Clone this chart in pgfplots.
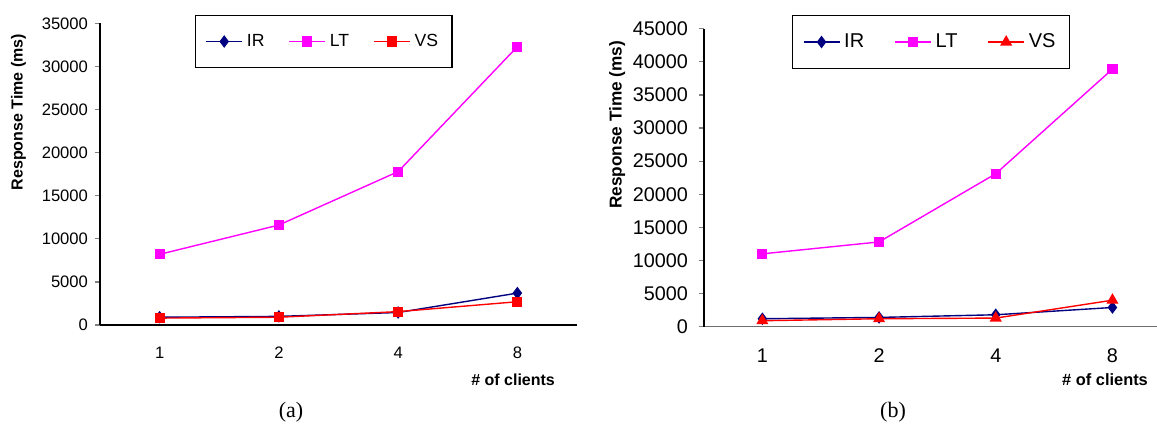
\documentclass[border=0pt]{standalone}
\usepackage{fontspec}
\setmainfont{Liberation Sans}
\newfontfamily\capfont{Liberation Serif}
\usepackage{pgfplots}
\pgfplotsset{compat=1.18}

\definecolor{irblue}{RGB}{0,0,128}
\definecolor{ltmag}{RGB}{255,0,255}
\definecolor{vsred}{RGB}{255,0,0}
\definecolor{axgray}{RGB}{110,110,110}

\pgfplotsset{
  rt/.style={
    scale only axis,
    xmin=0, xmax=4, ymin=0,
    axis x line*=bottom, axis y line*=left,
    axis line style={line width=0.6pt},
    xtick={0.5,1.5,2.5,3.5}, xticklabels={1,2,4,8},
    x tick style={draw=none},
    y tick style={line width=0.6pt},
    tick align=outside, major tick length=2.5pt,
    /pgf/number format/assume math mode=true,
    /pgf/number format/1000 sep={},
    scaled y ticks=false,
    clip=false,
    legend columns=3,
    legend style={draw=black, line width=0.6pt, anchor=north west,
      inner xsep=5pt, inner ysep=7pt},
    legend image code/.code={
      \draw[mark repeat=2,mark phase=2] plot coordinates {(0pt,0pt)(9pt,0pt)(18pt,0pt)};},
    every axis plot/.append style={line width=0.7pt},
    ylabel={Response Time (ms)},
    xlabel={\# of clients},
  },
  ir/.style={color=irblue, mark=diamond*, mark size=2.6pt, mark options={fill=irblue}},
  lt/.style={color=ltmag, mark=square*, mark size=2.2pt, mark options={fill=ltmag}},
}

\begin{document}
\begin{tikzpicture}
\path[use as bounding box] (0,0) rectangle (578.5pt,216pt);

% (a)
\begin{axis}[rt,
  at={(50pt,53.5pt)}, anchor=south west,
  width=238.5pt, height=150.8pt,
  ymax=35000, ytick={0,5000,...,35000},
  ticklabel style={font=\fontsize{8.3}{10}\selectfont},
  xticklabel style={yshift=-5pt},
  ylabel style={at={(axis description cs:-0.171,0.706)}, anchor=center,
    font=\fontsize{8}{10}\selectfont\bfseries},
  xlabel style={at={(axis description cs:0.866,-0.182)}, anchor=center,
    font=\fontsize{8}{10}\selectfont\bfseries},
  legend style={at={(0.199,1.027)}, font=\fontsize{8.8}{11}\selectfont,
    /tikz/every even column/.append style={column sep=10pt}},
]
\addplot[ir] coordinates {(0.5,900) (1.5,1000) (2.5,1450) (3.5,3700)};
\addplot[lt] coordinates {(0.5,8200) (1.5,11600) (2.5,17800) (3.5,32300)};
\addplot[color=vsred, mark=square*, mark size=2.2pt, mark options={fill=vsred}]
  coordinates {(0.5,800) (1.5,900) (2.5,1550) (3.5,2700)};
\legend{IR,LT,VS}
\end{axis}

% (b)
\begin{axis}[rt,
  at={(352pt,52.65pt)}, anchor=south west,
  width=233.4pt, height=149pt,
  ymax=45000, ytick={0,5000,...,45000},
  x axis line style={draw=axgray},
  ticklabel style={font=\fontsize{9.9}{12}\selectfont},
  xticklabel style={yshift=-5pt},
  yticklabel style={xshift=-2pt},
  ylabel style={at={(axis description cs:-0.186,0.677)}, anchor=center,
    font=\fontsize{8.6}{10}\selectfont\bfseries},
  xlabel style={at={(axis description cs:0.966,-0.179)}, anchor=east,
    font=\fontsize{8.2}{10}\selectfont\bfseries},
  legend style={at={(0.189,1.046)}, font=\fontsize{10}{12}\selectfont,
    /tikz/every even column/.append style={column sep=13pt}},
]
\addplot[ir] coordinates {(0.5,1200) (1.5,1400) (2.5,1800) (3.5,2900)};
\addplot[lt] coordinates {(0.5,11000) (1.5,12800) (2.5,23100) (3.5,38900)};
\addplot[color=vsred, mark=triangle*, mark size=2.8pt, mark options={fill=vsred}]
  coordinates {(0.5,900) (1.5,1200) (2.5,1300) (3.5,4000)};
\legend{IR,LT,VS}
\end{axis}

\node[font=\capfont\fontsize{11}{13}\selectfont] at (145.5pt,10pt) {(a)};
\node[font=\capfont\fontsize{11}{13}\selectfont] at (446.5pt,10pt) {(b)};
\end{tikzpicture}
\end{document}
